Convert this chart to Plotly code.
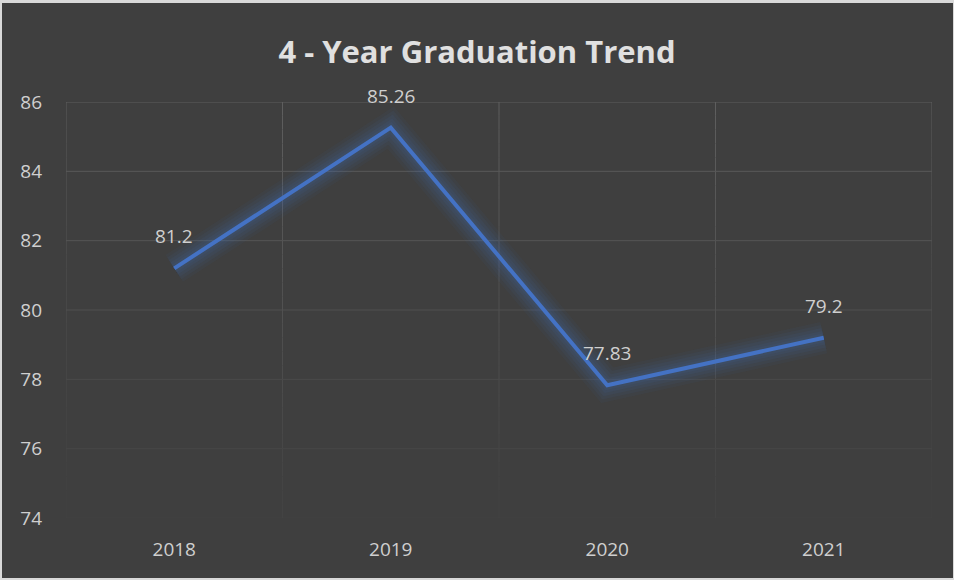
import plotly.graph_objects as go

years = ["2018", "2019", "2020", "2021"]
rates = [81.2, 85.26, 77.83, 79.2]
labels = ["81.2", "85.26", "77.83", "79.2"]
y_ticks = [74, 76, 78, 80, 82, 84, 86]

W, H = 954, 580
ML, MR, MT, MB = 66, 22, 102, 62
BG = (63, 63, 63)
GRID = (94, 94, 94)
FONT = "Open Sans"
TXT = "#cfcfcf"
YMIN, YMAX = y_ticks[0], y_ticks[-1]


def rgb(c):
    return "rgb(%d,%d,%d)" % c


def fade(t):
    f = 0.1 + 0.9 * t
    return rgb(tuple(round(b + (g - b) * f) for b, g in zip(BG, GRID)))


fig = go.Figure()

# soft glow under the line
for w, a in [(32, 0.05), (26, 0.06), (20, 0.07), (14, 0.08), (9, 0.08)]:
    fig.add_trace(go.Scatter(x=years, y=rates, mode="lines",
                             line=dict(color=f"rgba(68,114,196,{a})", width=w),
                             hoverinfo="skip", showlegend=False))
fig.add_trace(go.Scatter(x=years, y=rates, mode="lines",
                         line=dict(color="#4472C4", width=4),
                         showlegend=False))

for i, (y, t) in enumerate(zip(rates, labels)):
    fig.add_annotation(x=i, y=y, xref="x", yref="y", text=t, showarrow=False,
                       yshift=32, font=dict(family=FONT, size=19, color=TXT))

pw, ph = W - ML - MR, H - MT - MB
shapes = [dict(type="rect", xref="paper", yref="paper", layer="below",
               x0=(2 - ML) / pw, x1=(W - 1 - ML) / pw,
               y0=-(MB - 2) / ph, y1=1 + (MT - 3) / ph,
               fillcolor=rgb(BG), line=dict(width=0))]

# horizontal gridlines, fading toward the bottom
for v in y_ticks:
    t = (v - YMIN) / (YMAX - YMIN)
    shapes.append(dict(type="line", xref="paper", yref="y", layer="below",
                       x0=0, x1=1, y0=v, y1=v, line=dict(color=fade(t), width=1)))
# vertical gridlines at category boundaries, fading toward the bottom
N = 30
bounds = [k - 0.5 for k in range(len(years) + 1)]
for xb in bounds:
    for s in range(N):
        t0, t1 = s / N, (s + 1) / N
        shapes.append(dict(type="line", xref="x", yref="y", layer="below",
                           x0=xb, x1=xb,
                           y0=YMIN + t0 * (YMAX - YMIN), y1=YMIN + t1 * (YMAX - YMIN),
                           line=dict(color=fade((t0 + t1) / 2), width=1)))

fig.update_layout(
    width=W, height=H,
    margin=dict(l=ML, r=MR, t=MT, b=MB),
    paper_bgcolor="#d9d9d9",
    plot_bgcolor=rgb(BG),
    shapes=shapes,
    title=dict(text="<b>4 - Year Graduation Trend</b>", x=0.5, xref="container",
               xanchor="center", y=1 - 52 / H, yanchor="middle",
               font=dict(family=FONT, size=31, color="#e0e0e0")),
    xaxis=dict(type="category", showgrid=False, ticks="", showline=False,
               zeroline=False, range=[-0.5, 3.5],
               tickfont=dict(family=FONT, size=19, color=TXT),
               ticklabelstandoff=18),
    yaxis=dict(range=[YMIN, YMAX], tickvals=y_ticks, ticktext=[str(v) for v in y_ticks],
               showgrid=False, zeroline=False, showline=False, ticks="",
               tickfont=dict(family=FONT, size=19, color=TXT),
               ticklabelstandoff=23),
)

fig.write_html("out.html", config={"displayModeBar": False},
               post_script="document.body.style.margin='0';document.body.style.overflow='hidden';")
